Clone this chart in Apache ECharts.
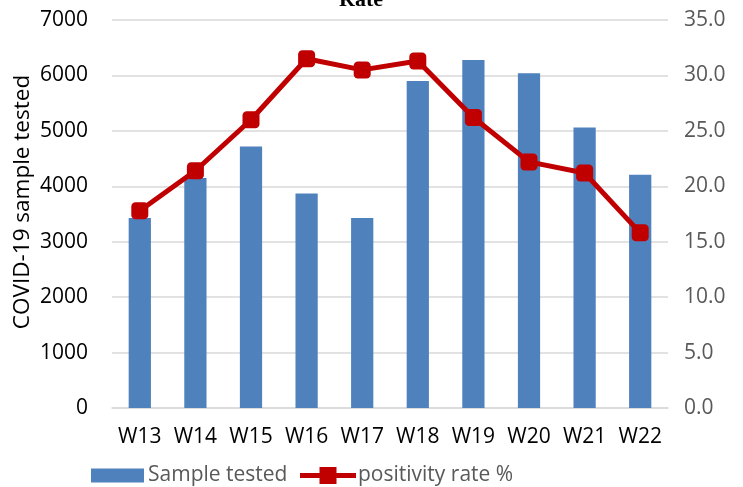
<!DOCTYPE html>
<html><head><meta charset="utf-8">
<script src="https://cdn.jsdelivr.net/npm/echarts@6/dist/echarts.min.js"></script>
<style>html,body{margin:0;padding:0;background:#fff}#c{width:743px;height:487px}</style>
</head><body><div id="c"></div>
<script>
const categories = ['W13','W14','W15','W16','W17','W18','W19','W20','W21','W22'];
const sampleTested = [3430, 4150, 4720, 3870, 3430, 5900, 6280, 6040, 5060, 4210];
const positivityRate = [17.8, 21.4, 26.0, 31.5, 30.5, 31.3, 26.2, 22.2, 21.2, 15.8];
const titleText = 'Rate';
const leftAxisName = 'COVID-19 sample tested';

const chart = echarts.init(document.getElementById('c'));
const font = 'Open Sans';
chart.setOption({
  animation: false,
  title: { text: titleText, left: 334, top: -16, textStyle: { fontFamily: 'Liberation Serif', fontWeight: 'bold', fontSize: 22, color: '#000' } },
  grid: { left: 112, right: 75, top: 20, bottom: 79, containLabel: false },
  graphic: [{
    type: 'text', x: 23, y: 202, rotation: Math.PI / 2,
    style: { text: leftAxisName, fontFamily: font, fontSize: 22.5, fill: '#000', align: 'center', verticalAlign: 'middle' }
  }],
  legend: [
    { left: 91, top: 465, padding: 0, itemWidth: 53, itemHeight: 14, itemGap: 0,
      textStyle: { fontFamily: font, fontSize: 21, color: '#595959', padding: [0,0,0,-1] },
      data: [{ name: 'Sample tested', icon: 'rect' }] },
    { left: 300, top: 465, padding: 0, itemWidth: 56, itemHeight: 17, itemGap: 0,
      textStyle: { fontFamily: font, fontSize: 21, color: '#595959', padding: [0,0,0,-3] },
      data: [{ name: 'positivity rate %', icon: 'path://M0,6h56v5H0z M19.5,0h17v17H19.5z' }] }
  ],
  xAxis: {
    type: 'category', data: categories,
    axisLine: { lineStyle: { color: '#d9d9d9', width: 1.5 } },
    axisTick: { show: false },
    axisLabel: { fontFamily: font, fontSize: 21, color: '#000', margin: 19, interval: 0 }
  },
  yAxis: [
    { type: 'value', min: 0, max: 7000, interval: 1000,
      axisLabel: { fontFamily: font, fontSize: 21, color: '#000', margin: 24, formatter: v => String(v) },
      splitLine: { lineStyle: { color: '#d9d9d9', width: 1.5 } },
      axisLine: { show: false }, axisTick: { show: false } },
    { type: 'value', min: 0, max: 35, interval: 5,
      axisLabel: { fontFamily: font, fontSize: 21, color: '#595959', margin: 16, formatter: v => v.toFixed(1) },
      splitLine: { show: false }, axisLine: { show: false }, axisTick: { show: false } }
  ],
  series: [
    { name: 'Sample tested', type: 'bar', data: sampleTested, barWidth: '40%',
      itemStyle: { color: '#4f81bd' } },
    { name: 'positivity rate %', type: 'line', yAxisIndex: 1, data: positivityRate,
      symbol: 'roundRect', symbolSize: 17,
      lineStyle: { color: '#c00000', width: 5 },
      itemStyle: { color: '#c00000' } }
  ]
});
</script></body></html>
